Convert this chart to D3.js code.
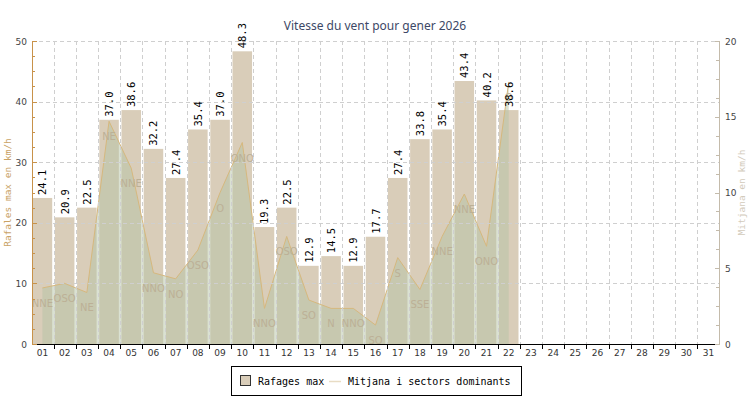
<!DOCTYPE html>
<html>
<head>
<meta charset="utf-8">
<script src="https://cdn.jsdelivr.net/npm/d3@7"></script>
<style>
html,body{margin:0;padding:0;background:#fff;}
svg{display:block;}
</style>
</head>
<body>
<svg id="chart" width="750" height="400"></svg>
<script>
const title = "Vitesse du vent pour gener 2026";
const days = ["01","02","03","04","05","06","07","08","09","10","11","12","13","14","15","16","17","18","19","20","21","22","23","24","25","26","27","28","29","30","31"];
const gustDays = ["01","02","03","04","05","06","07","08","09","10","11","12","13","14","15","16","17","18","19","20","21","22"];
const gustValues = [24.1,20.9,22.5,37.0,38.6,32.2,27.4,35.4,37.0,48.3,19.3,22.5,12.9,14.5,12.9,17.7,27.4,33.8,35.4,43.4,40.2,38.6];
const meanValues = [3.7,4.0,3.4,14.7,11.6,4.7,4.3,6.2,10.0,13.3,2.35,7.1,2.9,2.35,2.35,1.25,5.7,3.6,7.1,9.9,6.45,17.3];
const sectors = ["NNE","OSO","NE","NE","NNE","NNO","NO","OSO","O","ONO","NNO","OSO","SO","N","NNO","SO","S","SSE","NNE","NNE","ONO","O"];
const leftTicks = [0,10,20,30,40,50];
const rightTicks = [0,5,10,15,20];
const leftTitle = "Rafales max en km/h";
const rightTitle = "Mitjana en km/h";
const legendLabels = ["Rafages max","Mitjana i sectors dominants"];

const svg = d3.select("#chart");
const L = 32, R = 719, T = 41, B = 344;
const mono = "'DejaVu Sans Mono', monospace";
const sans = "'DejaVu Sans', sans-serif";

const x = d3.scaleBand().domain(days).range([L, R]).paddingInner(0.12).paddingOuter(0.03);
const step = x.step(), bw = x.bandwidth();
const cx = d => x(d) + bw / 2;
const yL = d3.scaleLinear().domain([0, 50]).range([B, T]);
const yR = d3.scaleLinear().domain([0, 20]).range([B, T]);

// title
svg.append("text").attr("x", 375).attr("y", 30).attr("text-anchor", "middle")
  .attr("font-family", "'Noto Sans', sans-serif").attr("font-size", 12).attr("fill", "#3d4866").text(title);

// bars
svg.append("g").selectAll("rect").data(gustValues).join("rect")
  .attr("x", (v, i) => x(gustDays[i])).attr("width", bw)
  .attr("y", v => yL(v)).attr("height", v => B - yL(v))
  .attr("fill", "#d9cdb9");

// area
const pts = meanValues.map((v, i) => [cx(gustDays[i]), yR(v)]);
svg.append("path").datum(pts)
  .attr("d", d3.area().x(d => d[0]).y0(B).y1(d => d[1]))
  .attr("fill", "#b6c4a6").attr("fill-opacity", 0.5);
svg.append("path").datum(pts)
  .attr("d", d3.line().x(d => d[0]).y(d => d[1]))
  .attr("fill", "none").attr("stroke", "#d6b87e").attr("stroke-width", 1);

// grid
const grid = svg.append("g").attr("stroke", "#cfcfcf").attr("stroke-dasharray", "4,3").attr("stroke-width", 1);
leftTicks.filter(t => t > 0).forEach(t => {
  grid.append("line").attr("x1", L).attr("x2", R).attr("y1", Math.round(yL(t)) + 0.5).attr("y2", Math.round(yL(t)) + 0.5);
});
const bounds = days.slice(1).map(d => x(d) - step * 0.06);
bounds.forEach(b => {
  grid.append("line").attr("x1", Math.round(b) + 0.5).attr("x2", Math.round(b) + 0.5).attr("y1", T).attr("y2", B);
});

// sector labels
svg.append("g").selectAll("text").data(sectors).join("text")
  .attr("x", (s, i) => cx(gustDays[i])).attr("y", (s, i) => yR(meanValues[i]) + 19)
  .attr("text-anchor", "middle").attr("font-family", sans).attr("font-size", 10)
  .attr("fill", "#bcb096").text(s => s);

// value labels
svg.append("g").selectAll("text").data(gustValues).join("text")
  .attr("transform", (v, i) => `translate(${cx(gustDays[i]) + 4},${yL(v) - 3}) rotate(-90)`)
  .attr("font-family", mono).attr("font-size", 10.5).attr("fill", "#000")
  .text(v => v.toFixed(1));

// x axis
const xa = svg.append("g");
xa.append("line").attr("x1", L).attr("x2", R).attr("y1", B + 0.5).attr("y2", B + 0.5).attr("stroke", "#000");
bounds.forEach(b => {
  xa.append("line").attr("x1", Math.round(b) + 0.5).attr("x2", Math.round(b) + 0.5).attr("y1", B).attr("y2", B + 5).attr("stroke", "#000");
});
xa.selectAll("text").data(days).join("text")
  .attr("x", d => cx(d)).attr("y", 356).attr("text-anchor", "middle")
  .attr("font-family", sans).attr("font-size", 9).attr("fill", "#333").text(d => d);

// left axis
const la = svg.append("g");
la.append("line").attr("x1", L + 0.5).attr("x2", L + 0.5).attr("y1", T).attr("y2", B + 1).attr("stroke", "#c8924a");
d3.range(0, 50.01, 2.5).forEach(t => {
  const major = t % 10 === 0;
  la.append("line").attr("x1", L).attr("x2", L + (major ? 5 : 3)).attr("y1", Math.round(yL(t)) + 0.5).attr("y2", Math.round(yL(t)) + 0.5).attr("stroke", "#c8924a");
});
la.selectAll("text").data(leftTicks).join("text")
  .attr("x", 27).attr("y", t => yL(t) + 3.5).attr("text-anchor", "end")
  .attr("font-family", sans).attr("font-size", 9).attr("fill", "#444").text(t => t);
svg.append("text").attr("transform", `translate(11,${(T + B) / 2}) rotate(-90)`).attr("text-anchor", "middle")
  .attr("font-family", mono).attr("font-size", 9.5).attr("fill", "#c9a265").text(leftTitle);

// right axis
const ra = svg.append("g");
ra.append("line").attr("x1", R + 0.5).attr("x2", R + 0.5).attr("y1", T).attr("y2", B + 1).attr("stroke", "#c4bbab");
d3.range(0, 20.01, 1.25).forEach(t => {
  const major = t % 5 === 0;
  ra.append("line").attr("x1", R - (major ? 4 : 3)).attr("x2", R).attr("y1", Math.round(yR(t)) + 0.5).attr("y2", Math.round(yR(t)) + 0.5).attr("stroke", "#c4bbab");
});
ra.selectAll("text").data(rightTicks).join("text")
  .attr("x", 725).attr("y", t => yR(t) + 3.5).attr("text-anchor", "start")
  .attr("font-family", sans).attr("font-size", 9).attr("fill", "#444").text(t => t);
svg.append("text").attr("transform", `translate(745,${(T + B) / 2}) rotate(-90)`).attr("text-anchor", "middle")
  .attr("font-family", mono).attr("font-size", 9.5).attr("fill", "#d2cabb").text(rightTitle);

// legend
const lg = svg.append("g");
lg.append("rect").attr("x", 231.5).attr("y", 366.5).attr("width", 290).attr("height", 29).attr("fill", "#fff").attr("stroke", "#000");
lg.append("rect").attr("x", 240.5).attr("y", 375.5).attr("width", 10).attr("height", 10).attr("fill", "#d9cdb9").attr("stroke", "#333");
lg.append("text").attr("x", 258).attr("y", 385).attr("font-family", mono).attr("font-size", 10).attr("fill", "#000").text(legendLabels[0]);
lg.append("line").attr("x1", 329).attr("x2", 341).attr("y1", 381.5).attr("y2", 381.5).attr("stroke", "#e8dcc4").attr("stroke-width", 1.5);
lg.append("text").attr("x", 348).attr("y", 385).attr("font-family", mono).attr("font-size", 10).attr("fill", "#000").text(legendLabels[1]);
</script>
</body>
</html>
